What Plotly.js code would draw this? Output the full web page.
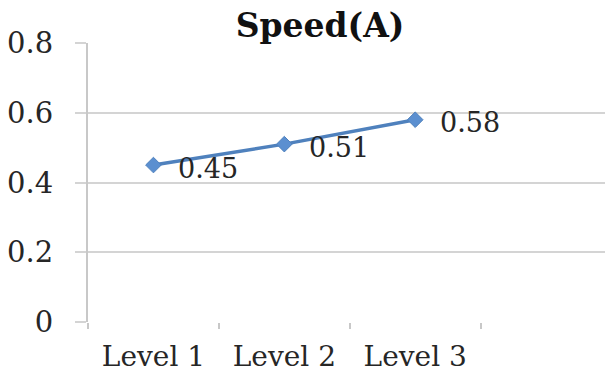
<!DOCTYPE html>
<html>
<head>
<meta charset="utf-8">
<script src="https://cdn.plot.ly/plotly-3.0.1.min.js"></script>
<style>html,body{margin:0;padding:0;background:#fff;}#chart{width:605px;height:374px;}</style>
</head>
<body>
<div id="chart"></div>
<script>
const categories = ["Level 1", "Level 2", "Level 3", " "];
const levels = ["Level 1", "Level 2", "Level 3"];
const speedValues = [0.45, 0.51, 0.58];
const yTickValues = [0, 0.2, 0.4, 0.6, 0.8];
const yTickLabels = ["0", "0.2", "0.4", "0.6", "0.8"];
const titleText = "Speed(A)";

const serif = "DejaVu Serif, Liberation Serif, serif";
const textColor = "#262626";
const gridColor = "#d4d4d4";

const trace = {
  x: levels,
  y: speedValues,
  type: "scatter",
  mode: "lines+markers",
  line: {color: "#4f81bd", width: 3.5},
  marker: {symbol: "diamond", size: 12, color: "#5b8fd0", line: {color: "#4f81bd", width: 1}},
  hoverinfo: "skip",
  showlegend: false
};

const annotations = levels.map((lv, i) => ({
  x: lv, y: speedValues[i], xref: "x", yref: "y",
  text: speedValues[i].toFixed(2),
  showarrow: false, xanchor: "left", yanchor: "middle",
  xshift: 23, yshift: -3,
  font: {family: serif, size: 27, color: textColor}
}));

const layout = {
  width: 605, height: 374,
  margin: {l: 88, r: 0, t: 43, b: 52},
  paper_bgcolor: "#fff", plot_bgcolor: "#fff",
  title: {
    text: "<b>" + titleText + "</b>",
    font: {family: serif, size: 33, color: "#111"},
    xref: "container", x: 0.529, xanchor: "center",
    yref: "container", y: 0.933, yanchor: "middle"
  },
  xaxis: {
    type: "category",
    categoryorder: "array", categoryarray: categories,
    range: [-0.5, 3.45],
    tickson: "boundaries",
    ticks: "outside", ticklen: 6, tickwidth: 2, tickcolor: "#c8c8c8",
    showgrid: false, zeroline: false,
    showline: false,
    tickfont: {family: serif, size: 28, color: textColor},
    ticklabelstandoff: 15,
    fixedrange: true
  },
  yaxis: {
    range: [0, 0.8],
    tickvals: yTickValues, ticktext: yTickLabels,
    ticks: "outside", ticklen: 11, tickwidth: 2, tickcolor: gridColor,
    showgrid: true, gridcolor: gridColor, gridwidth: 2,
    zeroline: false,
    showline: true, linecolor: "#c8c8c8", linewidth: 2,
    tickfont: {family: serif, size: 29, color: textColor},
    ticklabelstandoff: 16,
    fixedrange: true
  },
  annotations: annotations
};

Plotly.newPlot("chart", [trace], layout, {displayModeBar: false, staticPlot: true});
</script>
</body>
</html>
